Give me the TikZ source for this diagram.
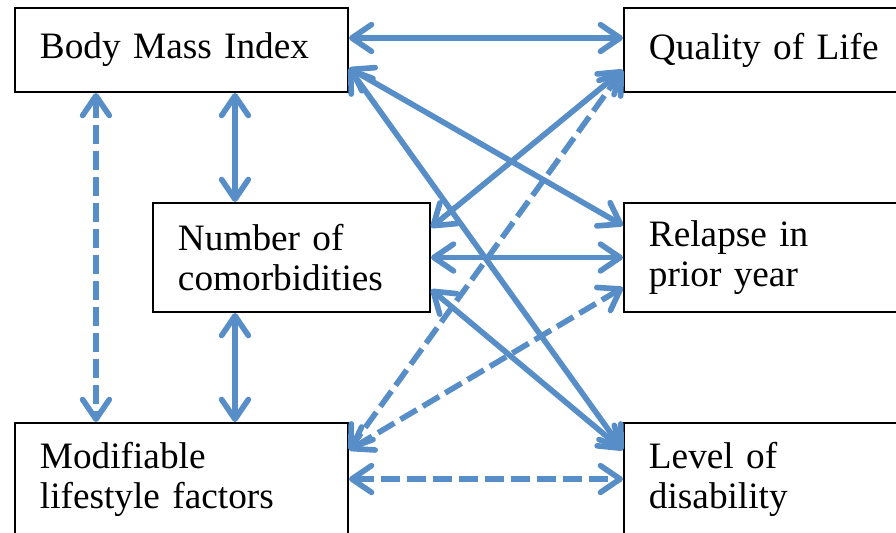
\documentclass[tikz,border=0pt]{standalone}
\usepackage{fontspec}
\setmainfont{Liberation Serif}
\usetikzlibrary{arrows.meta,calc}
\definecolor{bleufleche}{RGB}{88,142,200}
\begin{document}
\begin{tikzpicture}[x=0.025cm,y=-0.025cm]
			\tikzstyle{boite}=[draw=black,line width=1.4pt,inner xsep=0.625cm,align=left,font=\fontsize{26.5}{28.5}\selectfont]
			\tikzstyle{fleche}=[{Straight Barb[length=14pt,width=19pt,round]}-{Straight Barb[length=14pt,width=19pt,round]},line width=4pt,draw=bleufleche]
			\tikzstyle{pointille}=[fleche,dash pattern=on 13.5pt off 5pt]
			\def\LargeurGrande{7.075cm}
			\def\LargeurPetite{5.675cm}
			\def\ColonneA{181.5}
			\def\ColonneB{291.5}
			\def\ColonneC{790.5}
			\def\NiveauA{50}
			\def\NiveauB{257.5}
			\def\NiveauC{479}
			\useasboundingbox (0,0) rectangle (896,533);
			\clip (0,0) rectangle (896,533);
			\node[boite,text width=\LargeurGrande,minimum height=2.1cm] (BMI) at (\ColonneA,\NiveauA) {Body Mass Index};
			\node[boite,text width=\LargeurGrande,minimum height=2.1cm] (QoL) at (\ColonneC,\NiveauA) {Quality of Life};
			\node[boite,text width=\LargeurPetite,minimum height=2.725cm] (Com) at (\ColonneB,\NiveauB) {Number of\\comorbidities};
			\node[boite,text width=\LargeurGrande,minimum height=2.725cm] (Rel) at (\ColonneC,\NiveauB) {Relapse in\\prior year};
			\node[boite,text width=\LargeurGrande,minimum height=2.8cm] (Mod) at (\ColonneA,\NiveauC) {Modifiable\\lifestyle factors};
			\node[boite,text width=\LargeurGrande,minimum height=2.8cm] (Dis) at (\ColonneC,\NiveauC) {Level of\\disability};
			\draw[fleche] ($(BMI.east)+(0,-12)$)--($(QoL.west)+(0,-12)$);
			\draw[fleche] ($(BMI.east)+(0,18)$)--($(Rel.west)+(0,-32)$);
			\draw[fleche] ($(BMI.east)+(0,18)$)--($(Dis.west)+(0,-29)$);
			\draw[fleche] ($(QoL.west)+(0,20)$)--($(Com.east)+(0,-30)$);
			\draw[pointille] ($(QoL.west)+(0,20)$)--($(Mod.east)+(0,-29)$);
			\draw[fleche] (Com.east)--(Rel.west);
			\draw[pointille] ($(Rel.west)+(0,30)$)--($(Mod.east)+(0,-29)$);
			\draw[fleche] ($(Com.east)+(0,32)$)--($(Dis.west)+(0,-29)$);
			\draw[pointille] (Mod.east)--(Dis.west);
			\draw[pointille] ($(BMI.south west)+(82,0)$)--($(Mod.north west)+(82,0)$);
			\draw[fleche] ($(BMI.south west)+(221,0)$)--($(Com.north west)+(83,0)$);
			\draw[fleche] ($(Com.south west)+(83,0)$)--($(Mod.north west)+(221,0)$);
		\end{tikzpicture}
\end{document}
